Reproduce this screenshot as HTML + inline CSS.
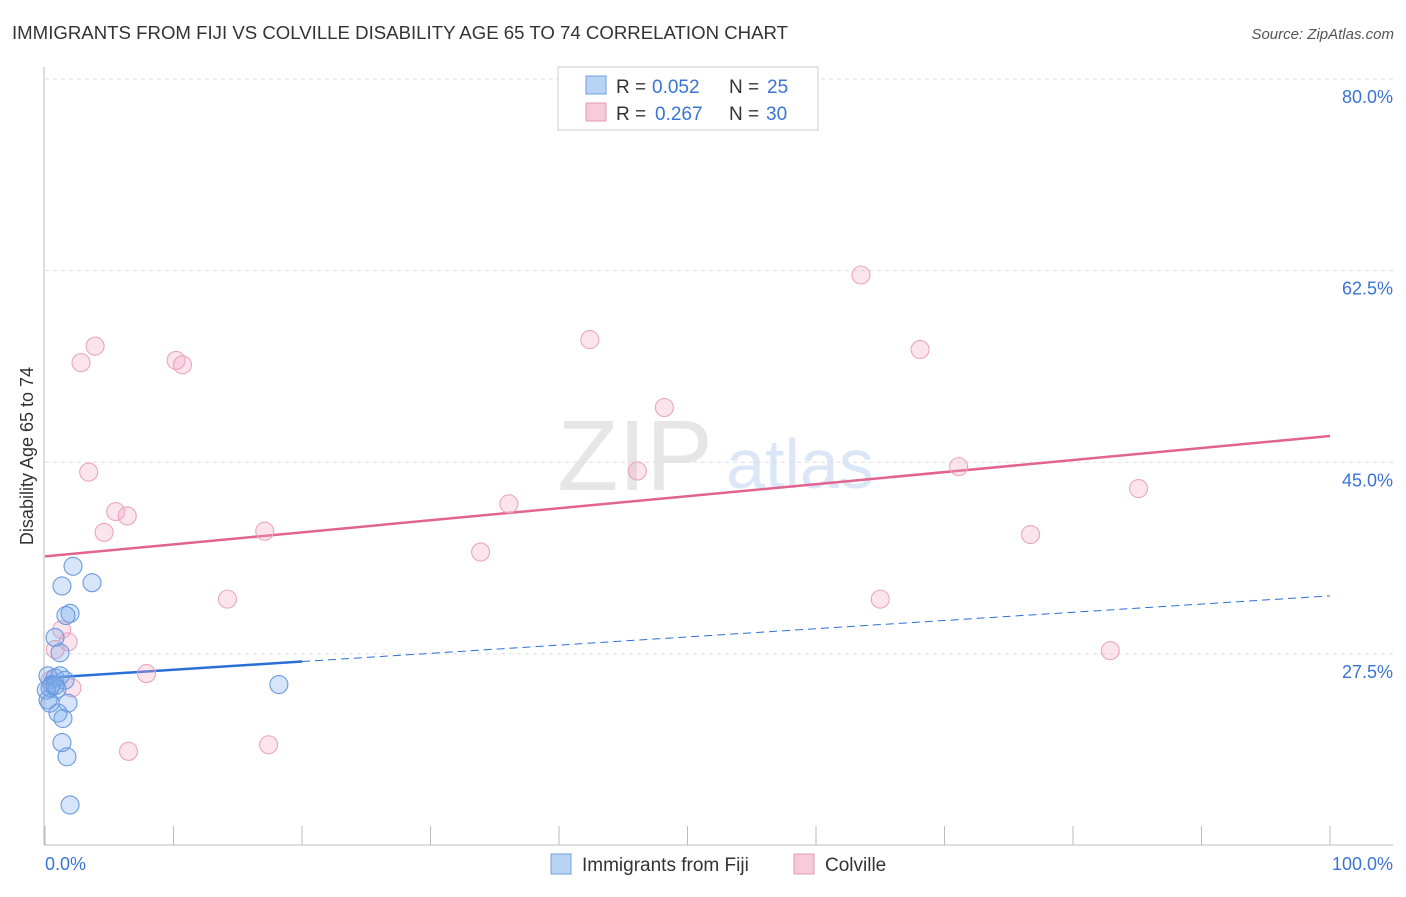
<!DOCTYPE html>
<html><head><meta charset="utf-8"><style>
body{margin:0;background:#fff;font-family:"Liberation Sans",sans-serif;}
svg text{font-family:"Liberation Sans",sans-serif;}
</style></head><body>
<svg id="c" width="1406" height="892">
<text x="12" y="39" font-size="18" fill="#333" textLength="776" lengthAdjust="spacingAndGlyphs">IMMIGRANTS FROM FIJI VS COLVILLE DISABILITY AGE 65 TO 74 CORRELATION CHART</text>
<text x="1394" y="39" font-size="15" fill="#555" font-style="italic" text-anchor="end">Source: ZipAtlas.com</text>
<text x="635" y="490" font-size="100" fill="#e6e6e6" font-family="Liberation Serif" text-anchor="middle">ZIP</text>
<text x="800" y="488" font-size="70" fill="#dbe7f6" text-anchor="middle">atlas</text>
<g id="grid"></g>
<line x1="44" y1="67" x2="44" y2="845" stroke="#bbb"/>
<line x1="44" y1="845" x2="1393" y2="845" stroke="#bbb"/>
<g id="xticks"></g>
<text x="33" y="456" font-size="18" fill="#333" text-anchor="middle" transform="rotate(-90 33 456)">Disability Age 65 to 74</text>
<text x="45" y="870" font-size="18" fill="#3a73d6">0.0%</text>
<text x="1393" y="870" font-size="18" fill="#3a73d6" text-anchor="end">100.0%</text>
<g id="lines"></g>
<g id="pts"></g>
<g>
<rect x="558" y="67" width="260" height="63" fill="#fff" stroke="#ccc"/>
<rect x="586" y="76" width="20" height="18" fill="#b9d3f5" stroke="#6f9fe0"/>
<rect x="586" y="103" width="20" height="18" fill="#f9cad9" stroke="#e79ab5"/>
<g font-size="19">
<text x="616" y="93" fill="#333">R =</text>
<text x="652" y="93" fill="#3a73d6">0.052</text>
<text x="729" y="93" fill="#333">N =</text>
<text x="767" y="93" fill="#3a73d6">25</text>
</g>
<g font-size="19">
<text x="616" y="120" fill="#333">R =</text>
<text x="655" y="120" fill="#3a73d6">0.267</text>
<text x="729" y="120" fill="#333">N =</text>
<text x="766" y="120" fill="#3a73d6">30</text>
</g>
</g>
<rect x="551" y="854" width="20" height="20" fill="#b9d3f5" stroke="#6f9fe0"/>
<text x="582" y="871" font-size="19" fill="#333">Immigrants from Fiji</text>
<rect x="794" y="854" width="20" height="20" fill="#f9cad9" stroke="#e79ab5"/>
<text x="825" y="871" font-size="19" fill="#333">Colville</text>
</svg>
<script>
const yTicks=[80,62.5,45,27.5];
const yTickLabels=["80.0%","62.5%","45.0%","27.5%"];
const xTicks=[0,10,20,30,40,50,60,70,80,90,100];
const fijiX=[2.18,1.32,3.66,1.95,1.63,0.78,1.17,0.23,0.78,1.17,1.56,0.39,0.93,0.54,0.23,0.39,1.79,1.01,1.40,1.32,1.71,1.95,18.2,0.1,0.78];
const fijiY=[35.5,33.7,34.0,31.2,31.0,29.0,27.6,25.5,25.3,25.5,25.1,24.4,24.3,24.7,23.3,23.0,23.0,22.1,21.6,19.4,18.1,13.7,24.7,24.2,24.6];
const colX=[3.9,2.8,10.2,10.7,42.4,63.5,68.1,48.2,3.4,46.1,71.1,85.1,5.5,6.4,4.6,17.1,36.1,33.9,76.7,14.2,65.0,1.3,1.8,0.8,2.1,7.9,82.9,6.5,17.4,0.4];
const colY=[55.6,54.1,54.3,53.9,56.2,62.1,55.3,50.0,44.1,44.2,44.6,42.6,40.5,40.1,38.6,38.7,41.2,36.8,38.4,32.5,32.5,29.7,28.6,27.9,24.4,25.7,27.8,18.6,19.2,25.1];
const fijiTrend=[25.3,32.8];
const colTrend=[36.4,47.4];
const NS="http://www.w3.org/2000/svg";
const X=v=>45+v*12.85;
const Y=v=>79+(80-v)*10.95;
function mk(t,a,p){const e=document.createElementNS(NS,t);for(const k in a)e.setAttribute(k,a[k]);document.getElementById(p).appendChild(e);return e;}
yTicks.forEach((v,i)=>{
 const l=mk('line',{x1:45,x2:1393,y1:Y(v),y2:Y(v),stroke:'#ddd','stroke-dasharray':'4,4'},'grid');
 
 
 const t=mk('text',{x:1393,y:Y(v)+24,'font-size':18,fill:'#3a73d6','text-anchor':'end'},'grid');
 t.textContent=yTickLabels[i];
 
 
});
xTicks.forEach(v=>{
 const l=mk('line',{x1:X(v),x2:X(v),y1:826,y2:845,stroke:'#bbb'},'xticks');
 
 
});
let l=mk('line',{x1:X(0),y1:Y(colTrend[0]),x2:X(100),y2:Y(colTrend[1]),stroke:'#e0648f','stroke-width':2.5},'lines');


const fy=x=>fijiTrend[0]+(fijiTrend[1]-fijiTrend[0])*x/100;
l=mk('line',{x1:X(0),y1:Y(fy(0)),x2:X(20),y2:Y(fy(20)),stroke:'#2b6fd6','stroke-width':2.5},'lines');


l=mk('line',{x1:X(20),y1:Y(fy(20)),x2:X(100),y2:Y(fy(100)),stroke:'#2b6fd6','stroke-width':1,'stroke-dasharray':'8,5'},'lines');


colX.forEach((v,i)=>{
 const c=mk('circle',{cx:X(v),cy:Y(colY[i]),r:9,fill:'rgba(245,165,195,0.3)',stroke:'#eba5bd','stroke-width':1.1},'pts');
 
 
});
fijiX.forEach((v,i)=>{
 const c=mk('circle',{cx:X(v),cy:Y(fijiY[i]),r:9,fill:'rgba(120,170,235,0.3)',stroke:'#6a9ade','stroke-width':1.1},'pts');
 
 
});
</script>
</body></html>
